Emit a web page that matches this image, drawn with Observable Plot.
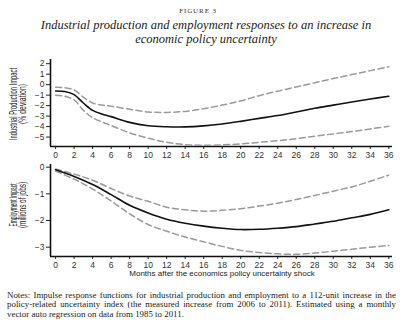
<!DOCTYPE html>
<html><head><meta charset="utf-8">
<script src="https://cdn.jsdelivr.net/npm/d3@7"></script>
<script src="https://cdn.jsdelivr.net/npm/@observablehq/plot@0.6"></script>
<style>
body{margin:0;width:400px;height:324px;position:relative;background:#fff;overflow:hidden}
.abs{position:absolute}
#fig{top:7px;left:0;width:396px;text-align:center;font:7px "Liberation Serif",serif;letter-spacing:0.9px;color:#333}
#title{top:18px;left:0;width:412px;text-align:center;font:italic 12.5px/14px "Liberation Serif",serif;color:#222}
#xt{top:269px;left:0;width:444px;text-align:center;font:8px "Liberation Sans",sans-serif;color:#222}
#notes{top:291px;left:7px;width:389px;font:8.9px/9.3px "Liberation Serif",serif;color:#222}
#notes div{text-align:justify;text-align-last:justify;white-space:nowrap}
#notes div.last{text-align-last:left}
#p1{top:52px;left:0}
#p2{top:160px;left:0}
</style></head><body>
<div id="fig" class="abs">FIGURE 3</div>
<div id="title" class="abs">Industrial production and employment responses to an increase in<br>economic policy uncertainty</div>
<div id="p2" class="abs"></div>
<div id="p1" class="abs"></div>
<div id="xt" class="abs">Months after the economics policy uncertainty shock</div>
<div id="notes" class="abs">
<div>Notes: Impulse response functions for industrial production and employment to a 112-unit increase in the</div>
<div>policy-related uncertainty index (the measured increase from 2006 to 2011). Estimated using a monthly</div>
<div class="last">vector auto regression on data from 1985 to 2011.</div>
</div>
<script>
// Data
const xTicks = [0,2,4,6,8,10,12,14,16,18,20,22,24,26,28,30,32,34,36];
const ipTicks = [2,1,0,-1,-2,-3,-4,-5];
const empTicks = [0,-1,-2,-3];

const ipMonths = [0,1,2,3,4,5,6,8,10,12,14,16,18,20,22,24,26,28,30,32,34,36];
const ipMid   = [-0.6,-0.65,-0.95,-1.75,-2.45,-2.8,-3.05,-3.6,-3.92,-4.02,-4.03,-3.93,-3.75,-3.5,-3.22,-2.95,-2.6,-2.25,-1.95,-1.65,-1.37,-1.1];
const ipUpper = [-0.25,-0.3,-0.5,-1.2,-1.75,-1.95,-2.05,-2.35,-2.6,-2.65,-2.55,-2.3,-1.95,-1.55,-1.05,-0.62,-0.22,0.18,0.58,0.96,1.34,1.7];
const ipLower = [-1.0,-1.1,-1.45,-2.45,-3.15,-3.55,-3.9,-4.6,-5.1,-5.5,-5.72,-5.78,-5.75,-5.65,-5.5,-5.35,-5.15,-4.92,-4.7,-4.48,-4.22,-3.97];

const empMonths = [0,2,4,6,8,10,12,14,16,18,20,22,24,26,28,30,32,34,36];
const empMid   = [-0.1,-0.35,-0.65,-1.03,-1.43,-1.72,-1.95,-2.1,-2.21,-2.29,-2.34,-2.33,-2.29,-2.23,-2.13,-2.03,-1.9,-1.77,-1.6];
const empUpper = [-0.07,-0.26,-0.49,-0.8,-1.08,-1.28,-1.5,-1.6,-1.65,-1.62,-1.56,-1.46,-1.35,-1.21,-1.06,-0.9,-0.74,-0.53,-0.3];
const empLower = [-0.15,-0.45,-0.82,-1.27,-1.75,-2.15,-2.4,-2.62,-2.8,-2.97,-3.12,-3.2,-3.25,-3.27,-3.22,-3.15,-3.08,-3.0,-2.94];

const ipRows = ipMonths.map((m,i)=>({m, mid:ipMid[i], upper:ipUpper[i], lower:ipLower[i]}));
const empRows = empMonths.map((m,i)=>({m, mid:empMid[i], upper:empUpper[i], lower:empLower[i]}));

const xDom = [-0.55, 36.4];
const common = {
  width: 400, marginLeft: 50, marginRight: 8,
  style: {fontFamily: "Liberation Sans, Arial, sans-serif", fontSize: "8.5px", color: "#333", background: "none", overflow: "visible"}
};
const dash = {stroke: "#9a9a9a", strokeWidth: 1.5, strokeDasharray: "6,3.5", curve: "catmull-rom"};
const solid = {stroke: "#111", strokeWidth: 1.6, curve: "catmull-rom"};

function panel(rows, yDom, yTicks, h, mt, mb) {
  return Plot.plot({
    ...common, height: h, marginTop: mt, marginBottom: mb,
    x: {domain: xDom},
    y: {domain: yDom},
    marks: [
      Plot.axisX(xTicks, {tickSize: 3, tickPadding: 2, label: null, stroke: "#222"}),
      Plot.axisY(yTicks, {tickSize: 4, tickPadding: 2, label: null, stroke: "#222"}),
      Plot.ruleX([xDom[0]], {stroke: "#111", strokeWidth: 1.6}),
      Plot.ruleY([yDom[0]], {stroke: "#111", strokeWidth: 1.6}),
      Plot.line(rows, {x: "m", y: "upper", ...dash}),
      Plot.line(rows, {x: "m", y: "lower", ...dash}),
      Plot.line(rows, {x: "m", y: "mid", ...solid})
    ]
  });
}

const p1 = panel(ipRows, [-5.9, 2.4], ipTicks, 110, 7, 16);
const p2 = panel(empRows, [-3.35, 0.1], empTicks, 110, 4, 14);
document.getElementById("p1").append(p1);
document.getElementById("p2").append(p2);

function ylab(svg, lines, cy) {
  const s = d3.select(svg);
  lines.forEach(([txt, x, len]) => {
    s.append("text")
      .attr("transform", `translate(${x},${cy}) rotate(-90)`)
      .attr("text-anchor", "middle")
      .attr("dy", "0.35em")
      .style("font-size", "10.5px")
      .style("font-family", "Liberation Sans, Arial, sans-serif")
      .attr("fill", "#222")
      .attr("textLength", len)
      .attr("lengthAdjust", "spacingAndGlyphs")
      .text(txt);
  });
}
ylab(p1, [["Industrial Production Impact", 13.5, 72], ["(% deviation)", 22.5, 40]], 52);
ylab(p2, [["Employment Impact", 13.5, 43], ["(millions of jobs)", 22.5, 46]], 45);
</script>
</body></html>
